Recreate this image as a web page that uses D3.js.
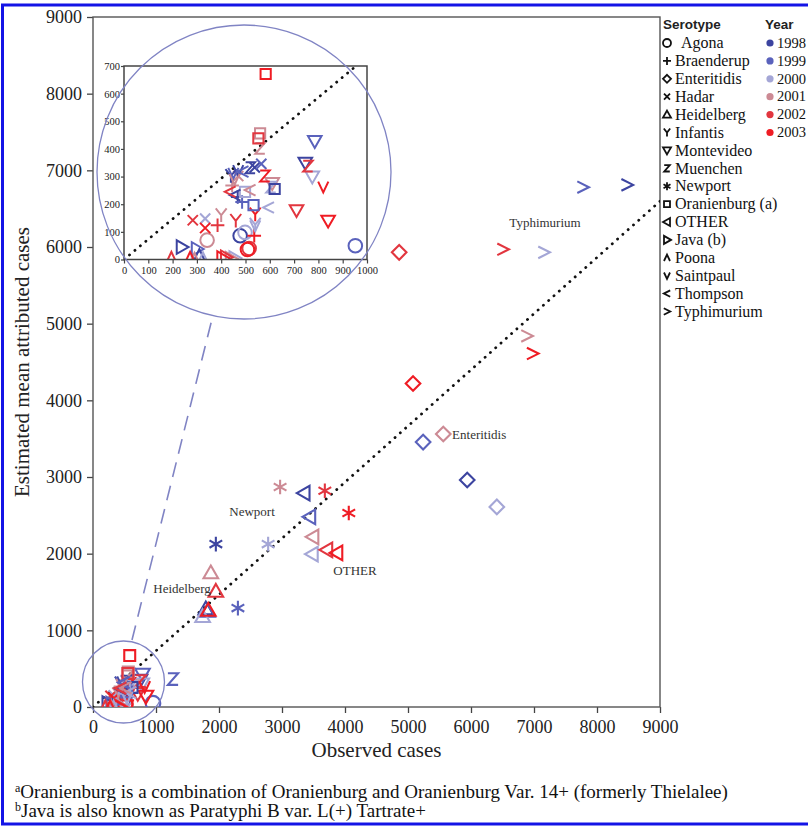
<!DOCTYPE html>
<html><head><meta charset="utf-8">
<script src="https://cdn.jsdelivr.net/npm/d3@7"></script>
<style>html,body{margin:0;padding:0;background:#fff;overflow:hidden}</style>
</head><body>
<svg id="chart" width="808" height="829" xmlns="http://www.w3.org/2000/svg"></svg>
<script>
// ---------------- DATA ----------------
const years = [1998, 1999, 2000, 2001, 2002, 2003];
const serotypes = ["Agona","Braenderup","Enteritidis","Hadar","Heidelberg","Infantis","Montevideo","Muenchen","Newport","Oranienburg (a)","OTHER","Java (b)","Poona","Saintpaul","Thompson","Typhimurium"];
const xTicks = [0,1000,2000,3000,4000,5000,6000,7000,8000,9000];
const yTicks = [0,1000,2000,3000,4000,5000,6000,7000,8000,9000];
const insetXTicks = [0,100,200,300,400,500,600,700,800,900,1000];
const insetYTicks = [0,100,200,300,400,500,600,700];

// [year, observed cases, estimated mean attributed cases]
const agona       = [[1998,478,86],[1999,952,50],[2000,498,98],[2001,342,70],[2002,515,40],[2003,508,36]];
const braenderup  = [[1998,468,226],[1999,486,208],[2001,445,268],[2002,385,124],[2003,536,86]];
const enteritidis = [[1998,5940,2960],[1999,5240,3455],[2000,6410,2610],[2001,5560,3560],[2002,4860,5930],[2003,5080,4220]];
const hadar       = [[1998,538,333],[1999,565,346],[2000,334,148],[2001,470,302],[2002,283,142],[2003,334,114]];
const heidelberg  = [[1998,1790,1280],[1999,1820,1250],[2000,1740,1180],[2001,1870,1750],[2002,1950,1510],[2003,1830,1262]];
const infantis    = [[1998,440,302],[2000,540,126],[2001,400,160],[2002,460,140],[2003,540,163]];
const montevideo  = [[1998,746,350],[1999,785,428],[2000,775,300],[2001,610,276],[2002,710,178],[2003,840,140]];
const muenchen    = [[1998,520,332],[1999,1270,365],[2000,605,262],[2001,560,402],[2002,757,338],[2003,580,302]];
const newport     = [[1998,1950,2125],[1999,2300,1290],[2000,2780,2125],[2001,2970,2870],[2002,3680,2820],[2003,4060,2530]];
const oranienburg = [[1998,620,255],[1999,533,197],[2000,498,245],[2001,560,456],[2002,553,438],[2003,583,671]];
const other       = [[1998,3350,2790],[1999,3440,2480],[2000,3480,1995],[2001,3490,2220],[2002,3710,2050],[2003,3870,2010]];
const java        = [[1998,238,45],[1999,300,38],[2000,455,5],[2001,440,3],[2002,420,8],[2003,405,5]];
const poona       = [[1998,310,18],[2000,325,6],[2001,290,4],[2002,195,8],[2003,272,8]];
const saintpaul   = [[1998,470,322],[1999,450,312],[2000,540,122],[2001,455,290],[2003,820,262]];
const thompson    = [[1998,457,233],[1999,490,318],[2000,595,188],[2001,519,251],[2002,437,245]];
const typhimurium = [[1998,8480,6810],[1999,7780,6780],[2000,7160,5930],[2001,6890,4840],[2002,6510,5970],[2003,6980,4610]];

const seriesBySerotype = [agona, braenderup, enteritidis, hadar, heidelberg, infantis, montevideo, muenchen, newport, oranienburg, other, java, poona, saintpaul, thompson, typhimurium];

const labelTexts = ["Typhimurium","Enteritidis","Newport","OTHER","Heidelberg"];
const footnotes = [["a","Oranienburg is a combination of Oranienburg and Oranienburg Var. 14+ (formerly Thielalee)"],["b","Java is also known as Paratyphi B var. L(+) Tartrate+"]];

// ---------------- STYLE ----------------
const yearColors = ["#3c44a0","#5a62bc","#a4a6d6","#cc8a94","#e2363f","#ef1c24"];
const symbolKinds = ["circle","plus","diamond","cross","triUp","Y","triDown","Z","star","square","triLeft","triRight","caret","V","lt","gt"];
const serif = "'Liberation Serif','Times New Roman',serif";
const sans = "'Liberation Sans',Arial,sans-serif";

function symbolPath(kind, s) {
  const f = v => (+v).toFixed(2);
  switch (kind) {
    case "circle": return `M${f(-s)},0A${f(s)},${f(s)} 0 1 0 ${f(s)},0A${f(s)},${f(s)} 0 1 0 ${f(-s)},0Z`;
    case "plus": return `M${f(-s)},0H${f(s)}M0,${f(-s)}V${f(s)}`;
    case "diamond": return `M0,${f(-s)}L${f(s)},0L0,${f(s)}L${f(-s)},0Z`;
    case "cross": { const a = s*0.75; return `M${f(-a)},${f(-a)}L${f(a)},${f(a)}M${f(-a)},${f(a)}L${f(a)},${f(-a)}`; }
    case "triUp": return `M0,${f(-s)}L${f(s)},${f(s*0.75)}L${f(-s)},${f(s*0.75)}Z`;
    case "triDown": return `M0,${f(s)}L${f(s)},${f(-s*0.75)}L${f(-s)},${f(-s*0.75)}Z`;
    case "triLeft": return `M${f(-s)},0L${f(s*0.75)},${f(-s)}L${f(s*0.75)},${f(s)}Z`;
    case "triRight": return `M${f(s)},0L${f(-s*0.75)},${f(-s)}L${f(-s*0.75)},${f(s)}Z`;
    case "Y": { const a = s*0.8; return `M${f(-a)},${f(-s)}L0,0L${f(a)},${f(-s)}M0,0V${f(s)}`; }
    case "Z": { const a = s*0.7; return `M${f(-a)},${f(-s*0.8)}H${f(a)}L${f(-a)},${f(s*0.8)}H${f(a)}`; }
    case "star": { const a = s*0.87, b = s*0.5; return `M0,${f(-s)}V${f(s)}M${f(-a)},${f(-b)}L${f(a)},${f(b)}M${f(-a)},${f(b)}L${f(a)},${f(-b)}`; }
    case "square": { const a = s*0.75; return `M${f(-a)},${f(-a)}H${f(a)}V${f(a)}H${f(-a)}Z`; }
    case "caret": { const a = s*0.75; return `M${f(-a)},${f(s*0.8)}L0,${f(-s*0.8)}L${f(a)},${f(s*0.8)}`; }
    case "V": { const a = s*0.75; return `M${f(-a)},${f(-s*0.8)}L0,${f(s*0.8)}L${f(a)},${f(-s*0.8)}`; }
    case "lt": { const a = s*0.8; return `M${f(a)},${f(-a)}L${f(-a)},0L${f(a)},${f(a)}`; }
    case "gt": { const a = s*0.8; return `M${f(-a)},${f(-a)}L${f(a)},0L${f(-a)},${f(a)}`; }
  }
}

// flatten
const points = [];
seriesBySerotype.forEach((arr, si) => arr.forEach(([yr, o, e]) => points.push({serotype: serotypes[si], kind: symbolKinds[si], year: yr, observed: o, estimated: e})));
const colorOf = d3.scaleOrdinal().domain(years).range(yearColors);

// ---------------- SVG ----------------
const svg = d3.select("#chart");
svg.append("rect").attr("x",0).attr("y",0).attr("width",808).attr("height",829).attr("fill","#fff");

// main scales
const x = d3.scaleLinear().domain([0,9000]).range([93,660]);
const y = d3.scaleLinear().domain([0,9000]).range([707,17]);

// axes
const gx = svg.append("g").attr("transform",`translate(0,${y(0)})`)
  .call(d3.axisBottom(x).tickValues(xTicks).tickSize(6).tickPadding(7).tickFormat(d3.format("d")));
const gy = svg.append("g").attr("transform",`translate(${x(0)},0)`)
  .call(d3.axisLeft(y).tickValues(yTicks).tickSize(6).tickPadding(5).tickFormat(d3.format("d")));
[gx, gy].forEach(g => {
  g.select(".domain").remove();
  g.selectAll(".tick line").attr("stroke","#444").attr("stroke-width",1.3);
  g.selectAll(".tick text").attr("font-family",serif).attr("font-size",18).attr("fill","#222");
});
svg.append("rect").attr("x",x(0)).attr("y",y(9000)).attr("width",x(9000)-x(0)).attr("height",y(0)-y(9000))
  .attr("fill","none").attr("stroke","#555").attr("stroke-width",1.4);

// axis titles
svg.append("text").attr("x",(x(0)+x(9000))/2).attr("y",757).attr("text-anchor","middle")
  .attr("font-family",serif).attr("font-size",21).attr("fill","#222").text("Observed cases");
svg.append("text").attr("transform",`translate(29,${(y(0)+y(9000))/2}) rotate(-90)`).attr("text-anchor","middle")
  .attr("font-family",serif).attr("font-size",21).attr("fill","#222").text("Estimated mean attributed cases");

// main clip
svg.append("clipPath").attr("id","mainClip").append("rect")
  .attr("x",x(0)).attr("y",y(9000)).attr("width",x(9000)-x(0)).attr("height",y(0)-y(9000));

// dotted reference line (slope)
const slope = 0.733;
svg.append("line").attr("clip-path","url(#mainClip)")
  .attr("x1",x(0)).attr("y1",y(0)).attr("x2",x(9000)).attr("y2",y(9000*slope))
  .attr("stroke","#111").attr("stroke-width",2.8).attr("stroke-linecap","round").attr("stroke-dasharray","0.1,7");

// main markers
svg.append("g").attr("clip-path","url(#mainClip)").selectAll("path").data(points).join("path")
  .attr("transform", d => `translate(${x(d.observed)},${y(d.estimated)})`)
  .attr("d", d => symbolPath(d.kind, 7.3))
  .attr("fill","none").attr("stroke", d => colorOf(d.year)).attr("stroke-width",2.1);

// annotation labels (data coordinates)
const labelPos = [[7175,6326,"middle"],[5700,3561,"start"],[2524,2556,"middle"],[4159,1787,"middle"],[1413,1552,"middle"]];
labelTexts.forEach((t,i) => {
  svg.append("text").attr("x",x(labelPos[i][0])).attr("y",y(labelPos[i][1])).attr("dy","0.35em")
    .attr("text-anchor",labelPos[i][2]).attr("font-family",serif).attr("font-size",13).attr("fill","#333").text(t);
});

// zoom annotation: small circle, dashed connector, big circle
const annCol = "#8084c4";
svg.append("circle").attr("cx",x(484)).attr("cy",y(326)).attr("r",41)
  .attr("fill","none").attr("stroke",annCol).attr("stroke-width",1.3);
svg.append("line").attr("x1",x(619)).attr("y1",y(874)).attr("x2",x(1889)).attr("y2",y(5061))
  .attr("stroke",annCol).attr("stroke-width",1.6).attr("stroke-dasharray","15,9");

// inset
const xi = d3.scaleLinear().domain([0,1000]).range([124,367]);
const yi = d3.scaleLinear().domain([0,700]).range([259.5,66]);
svg.append("rect").attr("x",xi(0)).attr("y",yi(700)).attr("width",xi(1000)-xi(0)).attr("height",yi(0)-yi(700)).attr("fill","#fff");
svg.append("clipPath").attr("id","insetClip").append("rect")
  .attr("x",xi(0)).attr("y",yi(700)).attr("width",xi(1000)-xi(0)).attr("height",yi(0)-yi(700));
svg.append("line").attr("clip-path","url(#insetClip)")
  .attr("x1",xi(0)).attr("y1",yi(0)).attr("x2",xi(950)).attr("y2",yi(950*slope))
  .attr("stroke","#111").attr("stroke-width",2.8).attr("stroke-linecap","round").attr("stroke-dasharray","0.1,7");
svg.append("g").attr("clip-path","url(#insetClip)").selectAll("path")
  .data(points.filter(d => d.observed <= 1000 && d.estimated <= 700)).join("path")
  .attr("transform", d => `translate(${xi(d.observed)},${yi(d.estimated)})`)
  .attr("d", d => symbolPath(d.kind, 6.8))
  .attr("fill","none").attr("stroke", d => colorOf(d.year)).attr("stroke-width",2);
const gxi = svg.append("g").attr("transform",`translate(0,${yi(0)})`)
  .call(d3.axisBottom(xi).tickValues(insetXTicks).tickSize(4).tickPadding(3).tickFormat(d3.format("d")));
const gyi = svg.append("g").attr("transform",`translate(${xi(0)},0)`)
  .call(d3.axisLeft(yi).tickValues(insetYTicks).tickSize(3).tickPadding(1).tickFormat(d3.format("d")));
[gxi, gyi].forEach(g => {
  g.select(".domain").remove();
  g.selectAll(".tick line").attr("stroke","#444").attr("stroke-width",1.2);
  g.selectAll(".tick text").attr("font-family",serif).attr("font-size",10.5).attr("fill","#222");
});
svg.append("rect").attr("x",xi(0)).attr("y",yi(700)).attr("width",xi(1000)-xi(0)).attr("height",yi(0)-yi(700))
  .attr("fill","none").attr("stroke","#444").attr("stroke-width",1.5);
svg.append("circle").attr("cx",x(2397)).attr("cy",y(6978)).attr("r",147)
  .attr("fill","none").attr("stroke",annCol).attr("stroke-width",1.3);

// legend
const lg = svg.append("g");
const rowY = i => 43 + i*17.9;
lg.append("text").attr("x",663).attr("y",29).attr("font-family",sans).attr("font-weight","bold").attr("font-size",13.5).attr("fill","#222").text("Serotype");
lg.append("text").attr("x",765).attr("y",29).attr("font-family",sans).attr("font-weight","bold").attr("font-size",13.5).attr("fill","#222").text("Year");
serotypes.forEach((s,i) => {
  lg.append("path").attr("transform",`translate(667,${rowY(i)})`).attr("d",symbolPath(symbolKinds[i],4))
    .attr("fill","none").attr("stroke","#111").attr("stroke-width",1.8);
  lg.append("text").attr("x", i===0 ? 681 : 675).attr("y",rowY(i)).attr("dy","0.33em")
    .attr("font-family",serif).attr("font-size",16).attr("fill","#111").text(s);
});
years.forEach((yr,i) => {
  lg.append("circle").attr("cx",770).attr("cy",rowY(i)).attr("r",3.6).attr("fill",yearColors[i]);
  lg.append("text").attr("x",777).attr("y",rowY(i)).attr("dy","0.33em")
    .attr("font-family",serif).attr("font-size",14.5).attr("fill","#111").text(yr);
});

// footnotes
footnotes.forEach(([sup, txt], i) => {
  const t = svg.append("text").attr("x",15).attr("y",798 + i*19).attr("font-family",serif).attr("font-size",19).attr("fill","#111");
  t.append("tspan").attr("font-size",12).attr("dy",-6).text(sup);
  t.append("tspan").attr("dy",6).text(txt);
});

// outer blue frame
svg.append("rect").attr("x",2.5).attr("y",5).attr("width",812).attr("height",819)
  .attr("fill","none").attr("stroke","#1414e6").attr("stroke-width",3);
</script>
</body></html>
